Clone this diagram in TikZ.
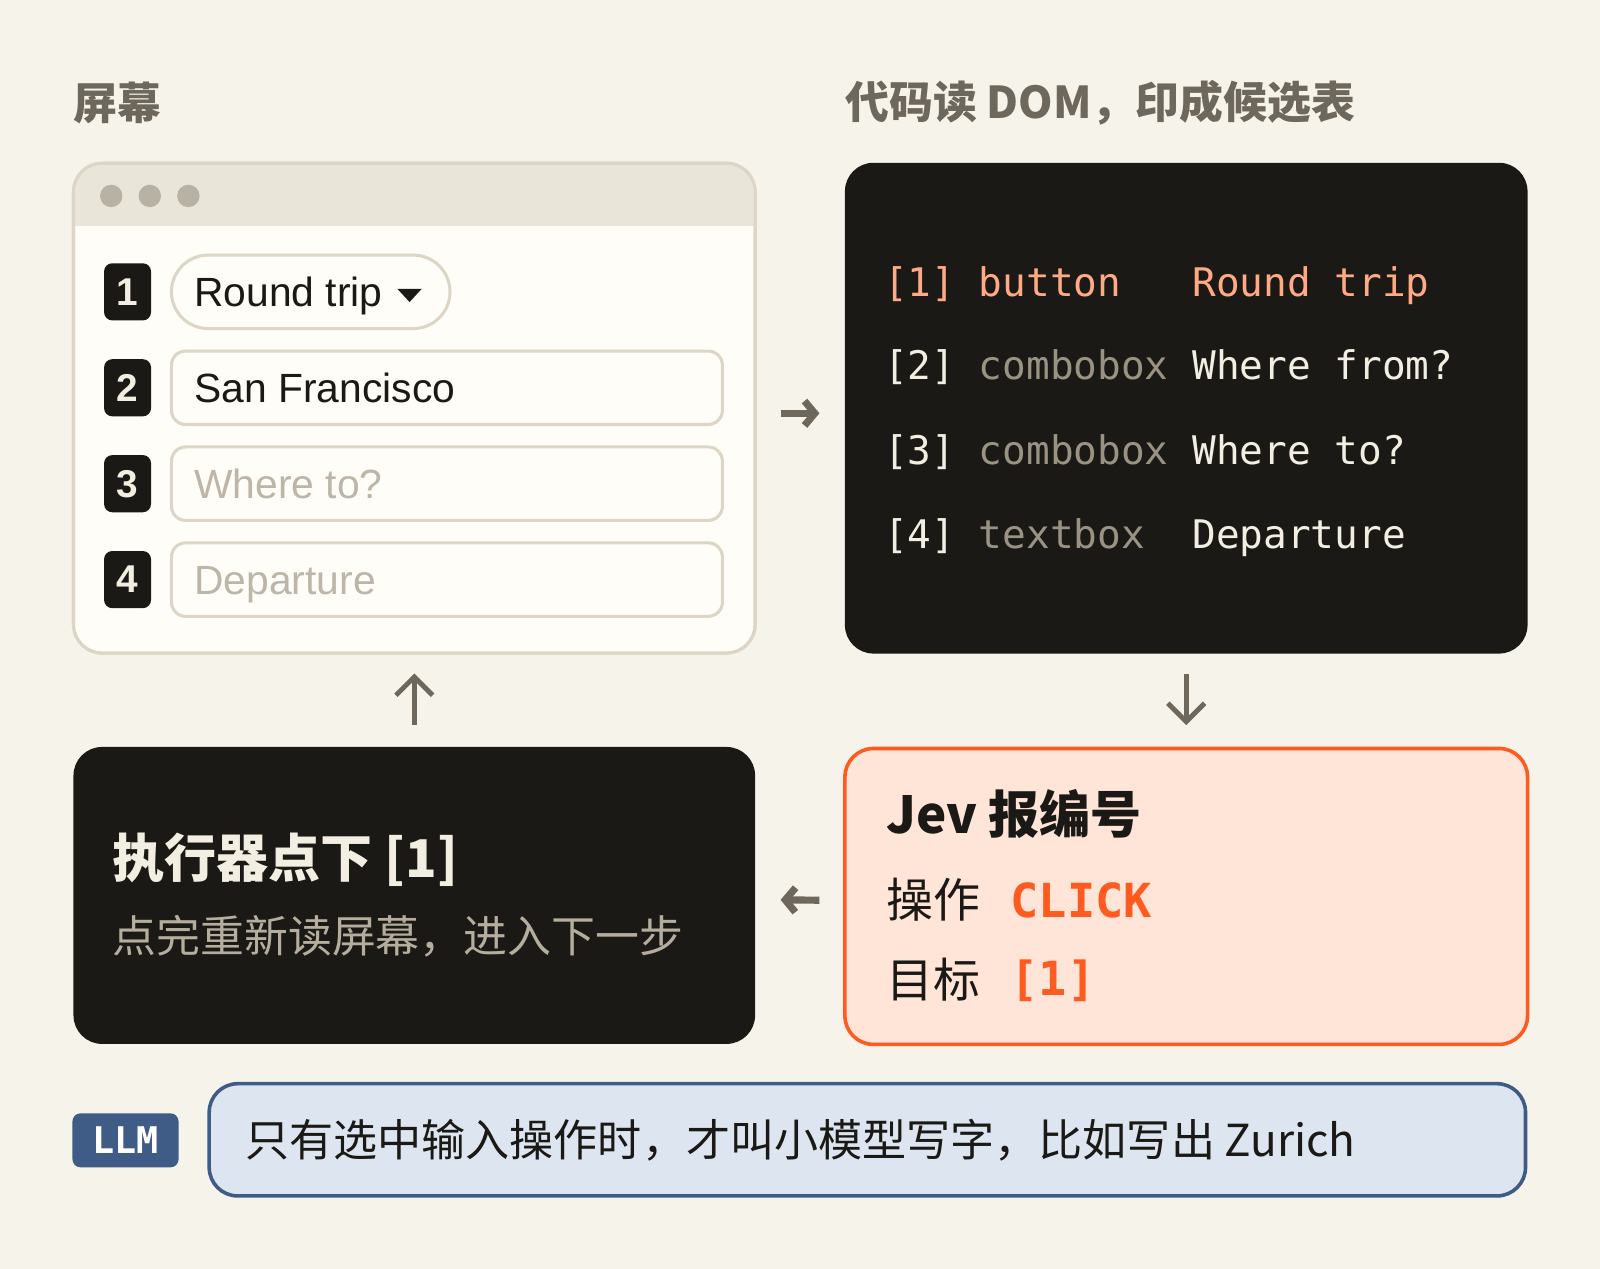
\documentclass[tikz,border=0pt]{standalone}
\usepackage{fontspec}
\setmainfont{Noto Sans CJK SC}
\newfontfamily\codefont{DejaVu Sans Mono}
\newfontfamily\uifont{Liberation Sans}
\usetikzlibrary{positioning, calc, arrows.meta}

\definecolor{paper}{HTML}{F6F3EB}
\definecolor{ink}{HTML}{1B1915}
\definecolor{cream}{HTML}{F3EEE2}
\definecolor{muted}{HTML}{6E685C}
\definecolor{frame}{HTML}{DDD6C6}
\definecolor{bar}{HTML}{EAE5D9}
\definecolor{dotgray}{HTML}{B8B2A4}
\definecolor{pane}{HTML}{FEFDF8}
\definecolor{hint}{HTML}{BDB6A8}
\definecolor{peach}{HTML}{FFAA84}
\definecolor{codegray}{HTML}{9A9283}
\definecolor{subtle}{HTML}{B5AD9D}
\definecolor{flame}{HTML}{FF5A1F}
\definecolor{blush}{HTML}{FFE4D8}
\definecolor{steel}{HTML}{3E5C85}
\definecolor{mist}{HTML}{DDE5F0}

\begin{document}
\begin{tikzpicture}[
  x=0.5pt, y=-0.5pt,
  panel/.style={rectangle, rounded corners=14pt, outer sep=0pt, inner sep=0pt},
  darkpanel/.style={panel, fill=ink, minimum width=334.5pt},
  screenbox/.style={panel, fill=pane, draw=frame, line width=1.5pt, minimum width=334pt, minimum height=240pt},
  badge/.style={rectangle, rounded corners=4pt, fill=ink, text=cream, minimum width=23pt, minimum height=28pt, inner sep=0pt, outer sep=0pt, font=\uifont\bfseries\fontsize{19}{19}\selectfont},
  field/.style={rectangle, rounded corners=7pt, fill=pane, draw=frame, line width=1.5pt, minimum width=270pt, minimum height=36pt, inner sep=0pt, outer sep=0pt},
  pill/.style={field, rounded corners=18pt, minimum width=136.5pt},
  fieldtxt/.style={inner sep=0pt, text height=14.4pt, text depth=0pt, font=\uifont\fontsize{20}{20}\selectfont},
  winddot/.style={circle, fill=dotgray, minimum size=11pt, inner sep=0pt},
  heading/.style={inner sep=0pt, anchor=west, text=muted, font=\bfseries\fontsize{21.5}{21.5}\selectfont},
  coderow/.style={inner sep=0pt, anchor=west, text height=14.1pt, text depth=0pt, text=cream, font=\codefont\fontsize{19.3}{19.3}\selectfont},
  plain/.style={inner sep=0pt, anchor=west},
  flowh/.style={-{Straight Barb[length=5pt, width=12pt]}, line width=3.5pt, muted, shorten <=12.5pt, shorten >=12.5pt},
  flowv/.style={-{Straight Barb[length=9pt, width=18pt]}, line width=2.4pt, muted}
]
\fill[paper] (0,0) rectangle (1568,1243.6);
\useasboundingbox (0,0) rectangle (1568,1243.6);

% headings
\node[heading] (HScreen) at (72,101) {屏幕};
\node[heading] (HDom) at (828,101) {代码读 DOM，印成候选表};

% screen window
\node[screenbox] (screen) at (406,400) {};
\begin{scope}
  \clip[rounded corners=14pt] (screen.north west) rectangle (screen.south east);
  \fill[bar] (screen.north west) rectangle ([yshift=-30.5pt]screen.north east);
\end{scope}
\draw[frame, line width=1.5pt, rounded corners=14pt] (screen.north west) rectangle (screen.south east);
\node[winddot] (dot1) at (109,192) {};
\node[winddot] (dot2) [right=7.5pt of dot1] {};
\node[winddot] (dot3) [right=7.5pt of dot2] {};

\node[badge] (B1) at (125,286) {1};
\node[badge] (B2) [below=19pt of B1] {2};
\node[badge] (B3) [below=19pt of B2] {3};
\node[badge] (B4) [below=19pt of B3] {4};

\node[pill] (F1) [right=10pt of B1] {};
\node[field] (F2) [right=10pt of B2] {};
\node[field] (F3) [right=10pt of B3] {};
\node[field] (F4) [right=10pt of B4] {};

\node[fieldtxt, text=ink, anchor=west] (T1) [right=11pt of F1.west] {Round trip};
\fill[ink] ([xshift=7pt, yshift=1.5pt]T1.east) -- ++(24,0) -- ++(-12,13) -- cycle;
\node[fieldtxt, text=ink, anchor=west] (T2) [right=11pt of F2.west] {San Francisco};
\node[fieldtxt, text=hint, anchor=west] (T3) [right=11pt of F3.west] {Where to?};
\node[fieldtxt, text=hint, anchor=west] (T4) [right=11pt of F4.west] {Departure};

% candidate table
\node[darkpanel, minimum height=240.5pt] (dom) [right=44pt of screen] {};
\node[coderow, text=peach] (R1) at (866,276) {[1] button~~~Round trip};
\node[coderow] (R2) at (866,358) {[2] {\color{codegray}combobox} Where from?};
\node[coderow] (R3) at (866,441) {[3] {\color{codegray}combobox} Where to?};
\node[coderow] (R4) at (866,523) {[4] {\color{codegray}textbox}~~Departure};

% model answer
\node[panel, fill=blush, draw=flame, line width=1.75pt, minimum width=334.5pt, minimum height=145pt] (jev) [below=46.5pt of dom] {};
\node[plain, text=ink, font=\bfseries\fontsize{25}{25}\selectfont] (JevHead) at (868,798) {Jev 报编号};
\node[plain, text=ink, font=\fontsize{23}{23}\selectfont] (OpKey) at (868,882) {操作};
\node[plain, text=flame, font=\codefont\bfseries\fontsize{23}{23}\selectfont] (OpVal) at (990,882) {CLICK};
\node[plain, text=ink, font=\fontsize{23}{23}\selectfont] (TgKey) at (868,960) {目标};
\node[plain, text=flame, font=\codefont\bfseries\fontsize{23}{23}\selectfont] (TgVal) at (990,961) {[1]};

% executor
\node[darkpanel, minimum width=334pt, minimum height=145.5pt] (exec) [below=46pt of screen] {};
\node[plain, text=cream, font=\bfseries\fontsize{25.5}{25.5}\selectfont] (ExHead) at (110,843) {执行器点下 [1]};
\node[plain, text=subtle, font=\fontsize{21.5}{21.5}\selectfont] (ExSub) at (110,917) {点完重新读屏幕，进入下一步};

% LLM note
\node[rectangle, rounded corners=4pt, fill=steel, text=white, minimum width=52pt, minimum height=26.5pt, inner sep=0pt, font=\codefont\bfseries\fontsize{18}{18}\selectfont] (llm) at (123,1117.5) {LLM};
\node[panel, fill=mist, draw=steel, line width=1.75pt, minimum width=645pt, minimum height=55pt] (note) at (850,1117) {};
\node[plain, text=ink, font=\fontsize{21.6}{21.6}\selectfont] (NoteTxt) at (240,1117) {只有选中输入操作时，才叫小模型写字，比如写出 Zurich};

% loop arrows
\draw[flowh] ([yshift=-2.5pt]screen.east) -- ([yshift=-2.5pt]dom.west);
\draw[flowv, shorten <=10pt, shorten >=11.5pt] (dom.south) -- (jev.north);
\draw[flowh] ([yshift=-2pt]jev.west) -- ([yshift=-2pt]exec.east);
\draw[flowv, shorten <=11pt, shorten >=10pt] (exec.north) -- (screen.south);
\end{tikzpicture}
\end{document}
